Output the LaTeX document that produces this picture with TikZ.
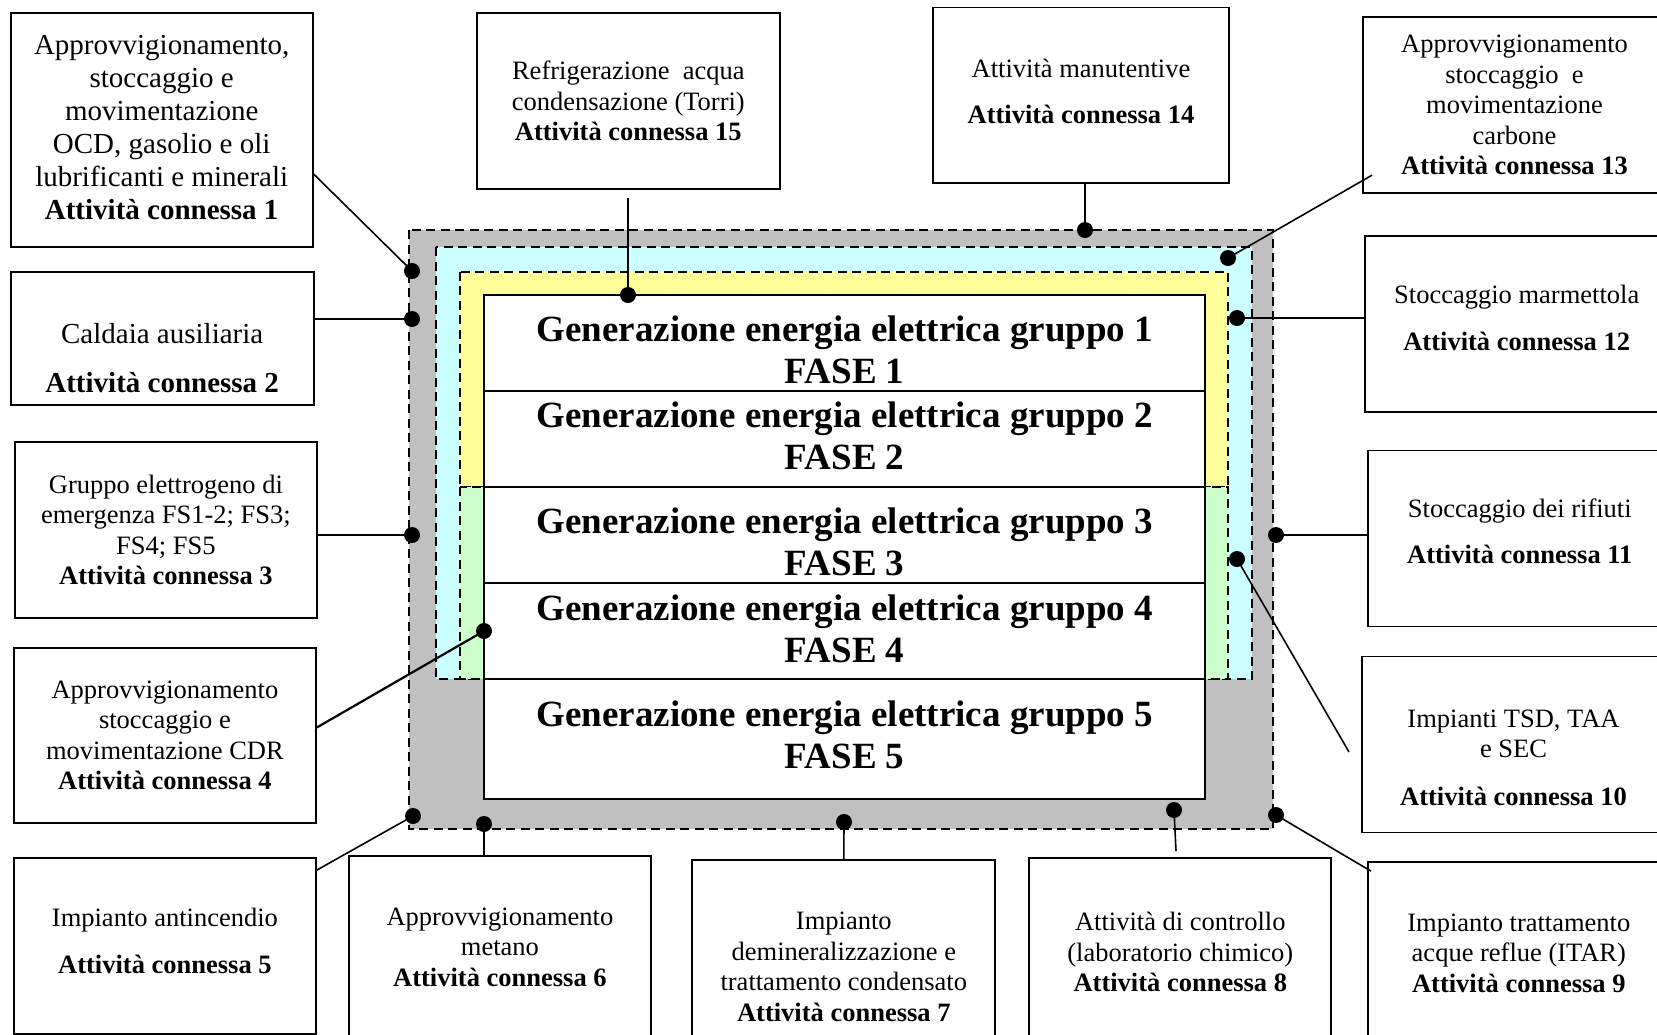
\documentclass[tikz,border=0pt]{standalone}
\usepackage{fontspec}
\setmainfont{Liberation Serif}

\definecolor{grigio}{HTML}{C0C0C0}
\definecolor{ciano}{HTML}{CCFFFF}
\definecolor{giallo}{HTML}{FFFF99}
\definecolor{verde}{HTML}{CCFFCC}

% alzare / abbassare il testo dentro un riquadro
\newcommand{\giu}[1]{\rule{0pt}{#1}}
\newcommand{\su}[1]{\rule[-#1]{0pt}{0pt}}

\tikzset{
    blok/.style={draw, line width=1.8pt, fill=white, align=center, inner sep=0pt,
        minimum width=302pt, minimum height=176pt,
        font=\fontsize{26.5pt}{30.5pt}\selectfont},
    blokgr/.style={blok, font=\fontsize{29pt}{33pt}\selectfont},
    fase/.style={draw, line width=2pt, fill=white, align=center, inner sep=0pt,
        minimum width=720.7pt, minimum height=96pt,
        font=\fontsize{37pt}{42pt}\selectfont\bfseries},
    zona/.style={line width=2pt, dash pattern=on 9pt off 5.5pt},
    conn/.style={line width=1.6pt},
}

\begin{document}
\begin{tikzpicture}[x=1pt,y=-1pt]
    \useasboundingbox (0,0) rectangle (1657,1034);
    \clip (0,0) rectangle (1657,1034);
    \fill[white] (0,0) rectangle (1657,1034);

    % zone
    \filldraw[zona, fill=grigio] (409.3,230) rectangle (1273.3,829);
    \filldraw[zona, fill=ciano] (436,247.3) rectangle (1252.3,679);
    \filldraw[zona, fill=giallo] (460,271.7) rectangle (1228.3,487);
    \filldraw[zona, fill=verde] (460,487) rectangle (1228.3,679);

    % fasi
    \node[fase] (f1) at (844.7,343) {\giu{39pt}Generazione energia elettrica gruppo 1\\FASE 1};
    \node[fase] (f2) at (844.7,439) {Generazione energia elettrica gruppo 2\\FASE 2\su{6pt}};
    \node[fase] (f3) at (844.7,535) {\giu{39pt}Generazione energia elettrica gruppo 3\\FASE 3};
    \node[fase] (f4) at (844.7,631) {Generazione energia elettrica gruppo 4\\FASE 4\su{4pt}};
    \node[fase, minimum height=120pt] (f5) at (844.7,739) {Generazione energia elettrica gruppo 5\\FASE 5\su{8pt}};

    % attivita connesse
    \node[blokgr, minimum height=234.6pt] (b1) at (161.7,130) {Approvvigionamento,\\stoccaggio e\\movimentazione\\OCD, gasolio e oli\\lubrificanti e minerali\\\textbf{Attività connessa 1}\su{6pt}};
    \node[blokgr, minimum width=303pt, minimum height=133pt] (b2) at (162.2,338.2) {\giu{60pt}Caldaia ausiliaria\\[16.7pt]\textbf{Attività connessa 2}};
    \node[blok, minimum height=176.5pt] (b3) at (165.9,530) {Gruppo elettrogeno di\\emergenza FS1-2; FS3;\\FS4; FS5\\\textbf{Attività connessa 3}};
    \node[blok, minimum height=175.4pt] (b4) at (164.9,735.5) {Approvvigionamento\\stoccaggio e\\movimentazione CDR\\\textbf{Attività connessa 4}};
    \node[blok] (b5) at (164.9,946) {Impianto antincendio\\[16pt]\textbf{Attività connessa 5}\su{10pt}};
    \node[blok, minimum height=182pt] (b6) at (499.9,947) {Approvvigionamento\\metano\\\textbf{Attività connessa 6}};
    \node[blok, minimum width=303pt, minimum height=214pt] (b7) at (843.8,967) {Impianto\\demineralizzazione e\\trattamento condensato\\\textbf{Attività connessa 7}};
    \node[blok, minimum height=188pt] (b8) at (1180.3,952) {Attività di controllo\\(laboratorio chimico)\\\textbf{Attività connessa 8}};
    \node[blok, minimum height=182pt] (b9) at (1518.8,953) {Impianto trattamento\\acque reflue (ITAR)\\\textbf{Attività connessa 9}};
    \node[blok, minimum width=303pt] (b10) at (1513.5,744.4) {\giu{44pt}Impianti TSD, TAA\\e SEC\\[17pt]\textbf{Attività connessa 10}};
    \node[blok, minimum width=303pt] (b11) at (1519.8,538.4) {Stoccaggio dei rifiuti\\[16pt]\textbf{Attività connessa 11}\su{14pt}};
    \node[blok, minimum width=303pt] (b12) at (1516.7,323.9) {Stoccaggio marmettola\\[17pt]\textbf{Attività connessa 12}\su{12pt}};
    \node[blok, minimum width=303pt] (b13) at (1514.5,105.2) {Approvvigionamento\\stoccaggio\enspace e\\movimentazione\\carbone\\\textbf{Attività connessa 13}};
    \node[blok, minimum width=296pt, minimum height=175.4pt] (b14) at (1081,95.1) {Attività manutentive\\[16pt]\textbf{Attività connessa 14}\su{8pt}};
    \node[blok, minimum width=303.4pt, minimum height=176.5pt] (b15) at (628.3,101) {Refrigerazione\enspace acqua\\condensazione (Torri)\\\textbf{Attività connessa 15}};

    % punti di collegamento
    \coordinate (d1) at (412,271);
    \coordinate (d2) at (412,319);
    \coordinate (d3) at (412,535);
    \coordinate (d4) at (484,631);
    \coordinate (d5) at (413,816);
    \coordinate (d6) at (484,824);
    \coordinate (d7) at (844,822);
    \coordinate (d8) at (1174,810);
    \coordinate (d9) at (1276,815);
    \coordinate (d10) at (1237,559);
    \coordinate (d11) at (1276,535);
    \coordinate (d12) at (1237,318);
    \coordinate (d13) at (1228,258);
    \coordinate (d14) at (1085,230);
    \coordinate (d15) at (628,295);
    \coordinate (e8) at (1176,851);
    \coordinate (e10) at (1349,752);
    \coordinate (e15) at (628,198);

    \draw[conn] ([yshift=-44pt]b1.east) -- (d1);
    \draw[conn] (d2 -| b2.east) -- (d2);
    \draw[conn] (d3 -| b3.east) -- (d3);
    \draw[conn, line width=2.2pt] ([yshift=8pt]b4.east) -- (d4);
    \draw[conn] ([yshift=-13pt]b5.north east) -- (d5);
    \draw[conn] (d6) -- (d6 |- b6.north);
    \draw[conn] (d7) -- (b7.north);
    \draw[conn] (d8) -- (e8);
    \draw[conn] (d9) -- ([xshift=4pt,yshift=-10pt]b9.north west);
    \draw[conn] (d10) -- (e10);
    \draw[conn] (d11) -- (d11 -| b11.west);
    \draw[conn] (d12) -- (d12 -| b12.west);
    \draw[conn] (d13) -- ([xshift=10pt,yshift=19pt]b13.south west);
    \draw[conn] (d14 |- b14.south) -- (d14);
    \draw[conn] (e15) -- (d15);

    \foreach \i in {1,...,15}
        \fill (d\i) circle (8pt);
\end{tikzpicture}
\end{document}
